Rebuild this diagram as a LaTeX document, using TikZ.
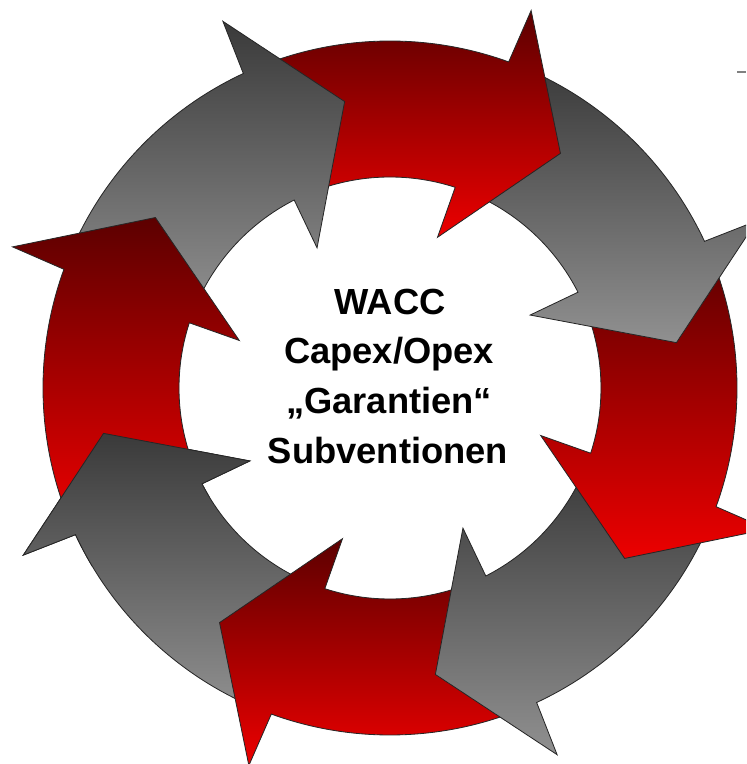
\documentclass[tikz,border=0pt]{standalone}
\usepackage{fontspec}
\setmainfont{Liberation Sans}
\usepackage{xcolor}

\definecolor{redtop}{RGB}{92,0,0}
\definecolor{redbot}{RGB}{236,0,0}
\definecolor{graytop}{RGB}{58,58,58}
\definecolor{graybot}{RGB}{144,144,144}

\tikzset{
  redarrow/.style={top color=redtop,bottom color=redbot,draw=black!85,line width=0.7pt},
  grayarrow/.style={top color=graytop,bottom color=graybot,draw=black!85,line width=0.7pt},
  centretext/.style={anchor=base,font=\fontsize{31}{42}\selectfont\bfseries}
}

% one bent arrow of the ring, tip at angle #1
\newcommand{\cyclearrow}[2]{%
  \path[#2] ({#1+59.5}:347) arc[start angle={#1+59.5},end angle={#1+16},radius=347]
    -- ({#1+15.5}:403) -- (#1:290) -- ({#1+18.5}:158) -- ({#1+18}:211)
    arc[start angle={#1+18},end angle={#1+59.5},radius=211] -- cycle;}

\begin{document}
\begin{tikzpicture}[x=0.03cm,y=0.03cm]

		\useasboundingbox (-390,-376) rectangle (356,388);
		\clip (-390,-376) rectangle (356,388);

		% Ring of arrows, clockwise
		\foreach \t/\s in {-171/grayarrow,-126/redarrow,-81/grayarrow,-36/redarrow,
		                   9/grayarrow,54/redarrow,99/grayarrow,144/redarrow}
		  {\cyclearrow{\t}{\s}}

		% Head of the first arrow again, on top of the last tail
		\begin{scope}
		  \clip (0,0) -- (-174:430) arc[start angle=-174,end angle=-149,radius=430] -- cycle;
		  \cyclearrow{-171}{grayarrow}
		\end{scope}

		\draw[gray,line width=1pt] (347,316) -- (356,316);

		% Centre text
		\node[centretext] (wacc) at (0,73) {WACC};
		\node[centretext] (capex) at (-1,24) {Capex/Opex};
		\node[centretext] (garant) at (-1,-26) {„Garantien“};
		\node[centretext] (subv) at (-2,-75) {Subventionen};

	\end{tikzpicture}
\end{document}
